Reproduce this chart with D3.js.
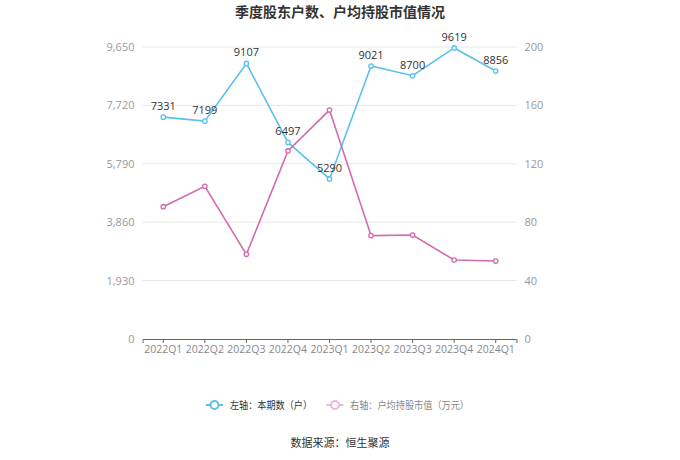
<!DOCTYPE html>
<html><head><meta charset="utf-8">
<script src="https://cdn.jsdelivr.net/npm/d3@7/dist/d3.min.js"></script>
<style>body{margin:0;background:#fff;font-family:"Noto Sans CJK SC","Noto Sans",sans-serif;}</style>
</head><body><svg id="c" width="680" height="460"></svg>
<script>
const categories = ["2022Q1","2022Q2","2022Q3","2022Q4","2023Q1","2023Q2","2023Q3","2023Q4","2024Q1"];
const holders = [7331,7199,9107,6497,5290,9021,8700,9619,8856];
const avgValue = [90.6,104.6,58.0,128.8,156.8,70.8,71.2,54.1,53.4];
const leftTicks = [0,1930,3860,5790,7720,9650];
const rightTicks = [0,40,80,120,160,200];
const blue = "#5bc1ea", pink = "#d56aae";
const svg = d3.select("#c");
const x = d3.scaleBand().domain(categories).range([142.5,516.5]);
const yL = d3.scaleLinear().domain([0,9650]).range([339,47]);
const yR = d3.scaleLinear().domain([0,200]).range([339,47]);
const cx = d => x(d) + x.bandwidth()/2;

svg.append("text").attr("x",340).attr("y",17).attr("text-anchor","middle")
  .attr("font-size",14).attr("font-weight","bold").attr("fill","#333").text("季度股东户数、户均持股市值情况");

// grid
svg.append("g").selectAll("line").data(leftTicks.slice(1)).join("line")
  .attr("x1",142.5).attr("x2",516.5).attr("y1",d=>yL(d)).attr("y2",d=>yL(d))
  .attr("stroke","#e8e8e8");
// left axis
const gl = svg.append("g").attr("transform","translate(142.5,0)")
  .call(d3.axisLeft(yL).tickValues(leftTicks).tickFormat(d3.format(",")).tickSize(0).tickPadding(8));
gl.select(".domain").remove();
gl.selectAll("text").attr("fill","#999").attr("font-size",11).attr("font-family","'Open Sans',sans-serif");
const gr = svg.append("g").attr("transform","translate(516.5,0)")
  .call(d3.axisRight(yR).tickValues(rightTicks).tickSize(0).tickPadding(8));
gr.select(".domain").remove();
gr.selectAll("text").attr("fill","#999").attr("font-size",11).attr("font-family","'Open Sans',sans-serif");
// x axis
const gx = svg.append("g").attr("transform","translate(0,339)")
  .call(d3.axisBottom(x).tickSize(4).tickPadding(3));
gx.select(".domain").attr("stroke","#666");
gx.selectAll("line").attr("stroke","#666");
gx.selectAll("text").attr("fill","#888").attr("font-size",10.5).attr("font-family","'Open Sans',sans-serif");

function series(vals, y, color){
  const g = svg.append("g");
  g.append("path").datum(vals).attr("fill","none").attr("stroke",color).attr("stroke-width",1.6)
    .attr("d", d3.line().x((d,i)=>cx(categories[i])).y(d=>y(d)));
  g.selectAll("circle").data(vals).join("circle").attr("cx",(d,i)=>cx(categories[i])).attr("cy",d=>y(d))
    .attr("r",2.2).attr("fill","#fff").attr("stroke",color).attr("stroke-width",1.3);
}
series(holders, yL, blue);
series(avgValue, yR, pink);
svg.append("g").selectAll("text").data(holders).join("text")
  .attr("x",(d,i)=>cx(categories[i])).attr("y",d=>yL(d)-7).attr("text-anchor","middle")
  .attr("font-size",11).attr("fill","#333").attr("font-family","'Open Sans',sans-serif").text(d=>d);

// legend
const lg = svg.append("g");
lg.append("line").attr("x1",206).attr("x2",223).attr("y1",405).attr("y2",405).attr("stroke",blue).attr("stroke-width",2);
lg.append("circle").attr("cx",214.5).attr("cy",405).attr("r",4).attr("fill","#fff").attr("stroke",blue).attr("stroke-width",2);
lg.append("text").attr("x",230).attr("y",409).attr("font-size",10).attr("fill","#333")
  .attr("textLength",82).attr("lengthAdjust","spacingAndGlyphs").text("左轴：本期数（户）");
lg.append("line").attr("x1",326.5).attr("x2",343.5).attr("y1",405).attr("y2",405).attr("stroke","#ecb5da").attr("stroke-width",2);
lg.append("circle").attr("cx",335).attr("cy",405).attr("r",4).attr("fill","#fff").attr("stroke","#ecb5da").attr("stroke-width",2);
lg.append("text").attr("x",350).attr("y",409).attr("font-size",10).attr("fill","#888")
  .attr("textLength",119).attr("lengthAdjust","spacingAndGlyphs").text("右轴：户均持股市值（万元）");

svg.append("text").attr("x",340).attr("y",447).attr("text-anchor","middle").attr("font-size",11)
  .attr("fill","#333").text("数据来源：恒生聚源");
</script></body></html>
